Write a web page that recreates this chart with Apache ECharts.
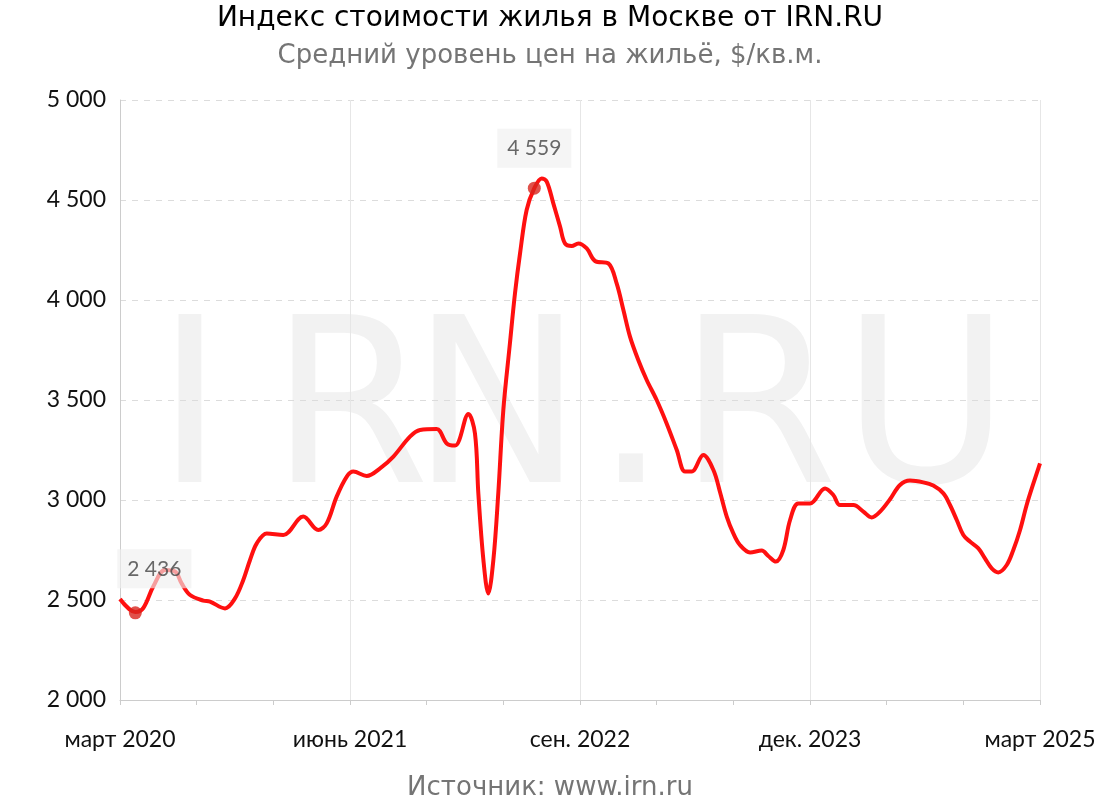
<!DOCTYPE html>
<html><head><meta charset="utf-8">
<script src="https://cdn.jsdelivr.net/npm/echarts@6/dist/echarts.min.js"></script>
<style>html,body{margin:0;padding:0;background:#fff}#c{width:1100px;height:800px}</style>
</head><body><div id="c"></div>
<script>
// months since March 2020
const months = [0,1.0,1.52,2.17,2.93,3.59,4.02,4.57,5.43,5.87,6.85,7.5,8.04,8.48,8.92,9.57,10.65,11.95,12.93,13.48,14.13,14.79,15.22,16.09,16.96,17.83,18.91,19.57,20.65,21.31,21.85,22.72,23.15,23.37,23.7,24.02,24.35,24.67,25.0,25.43,25.76,26.09,26.52,27.02,27.5,27.83,28.26,28.7,29.02,29.46,29.89,30.44,30.98,31.85,32.39,32.83,33.26,33.8,34.35,35.0,35.65,36.31,36.85,37.28,38.04,38.7,39.13,39.57,40.0,40.43,41.09,41.85,42.28,42.78,43.26,43.7,44.24,45.0,45.98,46.52,46.96,47.83,48.48,49.02,49.57,50.22,50.87,51.52,52.39,53.04,53.7,54.13,54.57,55.0,55.43,55.98,56.41,56.85,57.28,57.83,58.26,58.7,59.13,59.57,60.0];
const prices = [2505,2440,2460,2567,2650,2643,2583,2525,2497,2492,2458,2508,2600,2700,2783,2833,2825,2917,2850,2883,3017,3117,3142,3120,3158,3217,3317,3350,3355,3283,3272,3430,3333,3033,2700,2533,2700,3033,3450,3783,4033,4233,4450,4559,4608,4592,4483,4367,4283,4270,4283,4258,4195,4183,4083,3950,3817,3700,3600,3500,3383,3250,3142,3142,3225,3150,3040,2917,2833,2775,2738,2747,2720,2692,2750,2900,2983,2983,3058,3025,2975,2975,2942,2913,2942,3004,3075,3097,3088,3072,3033,2975,2900,2825,2792,2758,2708,2658,2638,2675,2750,2850,2975,3083,3183];
const markMonths = [1.0, 27.02];
const markValues = [2436, 4559];
const tickLabels = {0:'март 2020',15:'июнь 2021',30:'сен. 2022',45:'дек. 2023',60:'март 2025'};
const watermarkChars = ['I','R','N','.','R','U'];

const fmt = v => String(v).replace(/\B(?=(\d{3})+(?!\d))/g, ' ');
const wmCenters = [190, 350, 497, 631, 758, 926];
const chart = echarts.init(document.getElementById('c'));
chart.setOption({
  animation:false,
  backgroundColor:'#fff',
  title:[
    {text:'Индекс стоимости жилья в Москве от IRN.RU',left:'center',top:0,
     textStyle:{fontFamily:'DejaVu Sans',fontWeight:'normal',fontSize:28,color:'#000'}},
    {text:'Средний уровень цен на жильё, $/кв.м.',left:'center',top:38,
     textStyle:{fontFamily:'DejaVu Sans',fontWeight:'normal',fontSize:26,color:'#757575'}},
    {text:'Источник: www.irn.ru',left:'center',top:770,
     textStyle:{fontFamily:'DejaVu Sans',fontWeight:'normal',fontSize:26,color:'#757575'}}
  ],
  graphic:watermarkChars.map((ch,i)=>({type:'text',z:-10,silent:true,x:wmCenters[i],y:307,
    style:{text:ch,fontFamily:'DejaVu Sans',fontSize:230,fill:'#f2f2f2',textAlign:'center',textVerticalAlign:'top'}})),
  grid:{left:120,right:60,top:100,bottom:100},
  xAxis:[
    {type:'value',min:0,max:60,interval:5,
     axisLine:{lineStyle:{color:'#ccc'}},axisTick:{lineStyle:{color:'#ccc'},length:5},
     axisLabel:{show:false},splitLine:{show:false}},
    {type:'value',min:0,max:60,interval:15,position:'bottom',
     axisLine:{show:false},axisTick:{show:false},
     axisLabel:{margin:28,fontFamily:'Lato',fontSize:23,color:'#111',formatter:v=>tickLabels[v]||''},
     splitLine:{show:true,lineStyle:{color:'#e6e6e6',type:'solid'}}}
  ],
  yAxis:{type:'value',min:2000,max:5000,interval:500,
    axisLine:{show:true,lineStyle:{color:'#ccc'}},axisTick:{show:false},
    axisLabel:{margin:14,fontFamily:'Lato',fontSize:23,color:'#111',formatter:v=>fmt(v)},
    splitLine:{lineStyle:{color:'#dcdcdc',type:[6,6]}}},
  series:[
    {type:'line',xAxisIndex:0,data:months.map((m,i)=>[m,prices[i]]),smooth:0.35,symbol:'none',
     lineStyle:{color:'#ff1010',width:4},z:3},
    {type:'scatter',xAxisIndex:0,data:markMonths.map((m,i)=>[m,markValues[i]]),symbolSize:13,
     itemStyle:{color:'#d8261e'},z:4,
     label:{show:true,position:'top',formatter:p=>fmt(p.value[1]),fontFamily:'Lato',fontSize:21,color:'#444',
       backgroundColor:'rgba(240,240,240,0.8)',padding:[9,10,9,10],distance:14},
     labelLayout:p=>p.dataIndex===0?{dx:19,dy:-4}:{dx:0,dy:0}}
  ]
});
</script></body></html>
